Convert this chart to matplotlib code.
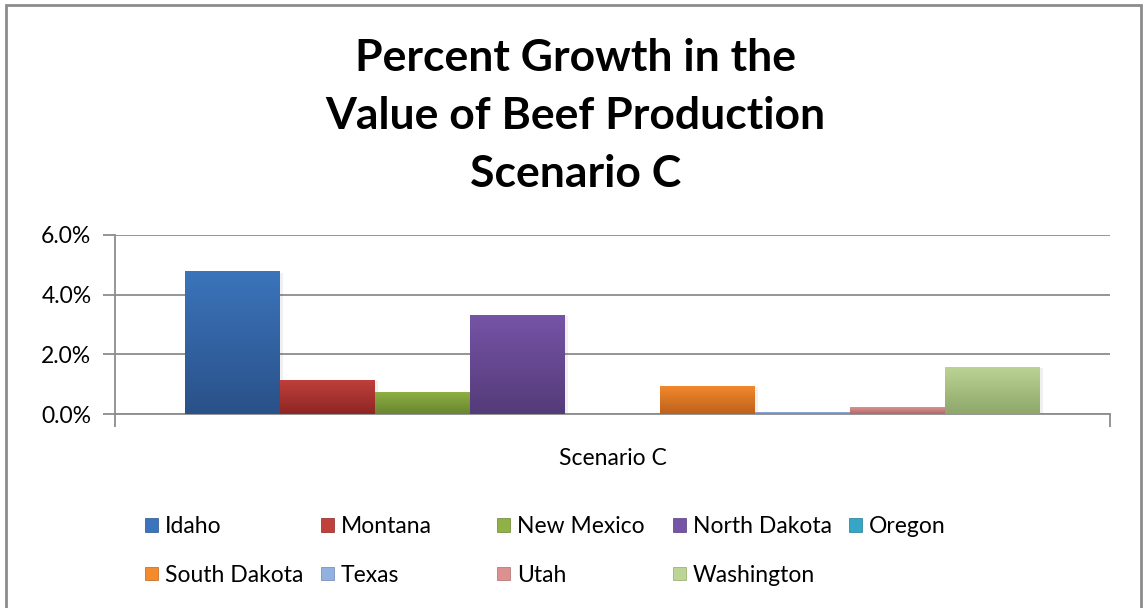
import numpy as np
import matplotlib
matplotlib.use('Agg')
from matplotlib import pyplot as plt
from matplotlib.patches import Patch, Rectangle
from matplotlib.colors import LinearSegmentedColormap

plt.rcParams['font.family'] = ['Lato', 'DejaVu Sans']

states = ['Idaho', 'Montana', 'New Mexico', 'North Dakota', 'Oregon',
          'South Dakota', 'Texas', 'Utah', 'Washington']
growth = [4.78, 1.14, 0.74, 3.32, 0.0, 0.94, 0.06, 0.23, 1.58]
top_colors = ['#3b74bb', '#c0403c', '#8fb145', '#7654a6', '#35a6c6',
              '#f38a2c', '#93b1e0', '#dc9190', '#bcd595']
bottom_colors = ['#2a5189', '#8e2623', '#6a8530', '#543b79', '#237a93',
                 '#bd611c', '#6a84ad', '#b06a6a', '#8ea66a']
category = 'Scenario C'
yticks = [0, 2, 4, 6]

fig = plt.figure(figsize=(11.44, 6.08), dpi=100)
ax = fig.add_axes([0.1005, 0.319, 0.8701, 0.2945])

width = 0.0954
n = len(states)
offsets = (np.arange(n) - (n - 1) / 2) * width
grad = np.linspace(0, 1, 100).reshape(-1, 1)
for off, val, c1, c2 in zip(offsets, growth, top_colors, bottom_colors):
    if val <= 0:
        continue
    # soft drop shadow behind each bar
    ax.add_patch(Rectangle((off - width / 2 + 0.003, 0), width, val - 0.04,
                           facecolor='#000000', alpha=0.06, lw=0, zorder=2))
    bar = ax.bar(off, val, width, color=c1, lw=0, zorder=3)[0]
    cmap = LinearSegmentedColormap.from_list('g', [c2, c1])
    im = ax.imshow(grad, cmap=cmap, aspect='auto', origin='lower',
                   extent=(off - width / 2, off + width / 2, 0, val), zorder=4)
    im.set_clip_path(bar)

ax.set_xlim(-0.5, 0.5)
ax.set_ylim(0, 6)
ax.set_yticks(yticks)
ax.set_yticklabels(['%.1f%%' % t for t in yticks], fontsize=16.5)
ax.set_xticks([-0.5, 0.5])
ax.set_xticklabels(['', ''])
ax.text(0, -1.48, category, ha='center', va='center', fontsize=16.5)
ax.yaxis.grid(True, color='#8c8c8c', lw=1.3, zorder=0)
ax.set_axisbelow(True)
for s in ['top', 'right']:
    ax.spines[s].set_visible(False)
for s in ['left', 'bottom']:
    ax.spines[s].set_color('#8c8c8c')
    ax.spines[s].set_linewidth(1.3)
ax.tick_params(axis='both', color='#8c8c8c', width=1.3, length=9)
ax.tick_params(axis='y', pad=8)

fig.text(0.503, 0.809, 'Percent Growth in the\nValue of Beef Production\nScenario C',
         ha='center', va='center', fontsize=32, fontweight='bold',
         linespacing=1.55)

# legend laid out in equal-width columns, row by row
ncol = 5
col_w = 176 / 1144
for col in range(ncol):
    idx = [i for i in range(n) if i % ncol == col]
    handles = [Patch(facecolor=top_colors[i], edgecolor=bottom_colors[i], lw=0.5)
               for i in idx]
    labels = [states[i] for i in idx]
    fig.legend(handles, labels, loc='upper left',
               bbox_to_anchor=(0.127 + col * col_w, 0.151), frameon=False,
               fontsize=16.5, handlelength=0.55, handleheight=0.55,
               handletextpad=0.3, labelspacing=1.2, borderpad=0,
               borderaxespad=0)

fig.patches.append(Rectangle((6 / 1144, -0.05), 1135 / 1144, 1.05 - 5 / 608,
                             transform=fig.transFigure, fill=False,
                             edgecolor='#8c8c8c', lw=2))

fig.savefig('out.png', dpi=100)
